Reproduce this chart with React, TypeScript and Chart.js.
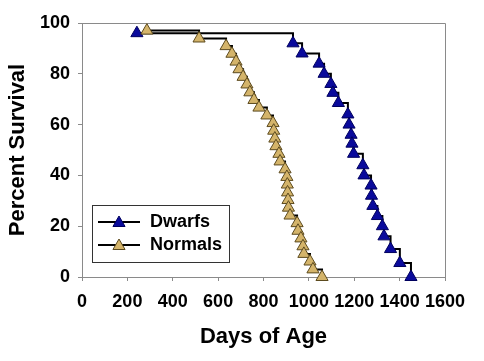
import React, { useEffect, useRef } from 'react';
import { Chart, registerables } from 'chart.js';

Chart.register(...registerables);

const seriesNames = ['Dwarfs', 'Normals'];

const dwarfDays = [242, 930, 970, 1045, 1067, 1097, 1106, 1130, 1172, 1177, 1186, 1190, 1197, 1238, 1243, 1274, 1276, 1282, 1302, 1324, 1331, 1360, 1401, 1450];
const dwarfSurvival = [96, 92, 88, 84, 80, 76, 72.5, 68.5, 64, 60, 56, 52.5, 48.5, 44, 40, 36, 32, 28, 24, 20, 16, 11, 5.5, 0];

const normalDays = [286, 516, 635, 661, 679, 692, 710, 727, 740, 758, 780, 815, 842, 845, 850, 855, 868, 873, 895, 903, 905, 906, 908, 910, 917, 948, 952, 965, 974, 978, 1005, 1018, 1058];
const normalSurvival = [97.0, 93.9, 90.9, 87.9, 84.8, 81.8, 78.8, 75.8, 72.7, 69.7, 66.7, 63.6, 60.6, 57.6, 54.5, 51.5, 48.5, 45.5, 42.4, 39.4, 36.4, 33.3, 30.3, 27.3, 24.2, 21.2, 18.2, 15.2, 12.1, 9.1, 6.1, 3.0, 0];

const xTickValues = [0, 200, 400, 600, 800, 1000, 1200, 1400, 1600];
const yTickValues = [0, 20, 40, 60, 80, 100];

const FONT = "'Liberation Sans', Arial, Helvetica, sans-serif";

const dwarfFill = '#0a0a9c';
const dwarfEdge = '#00005e';
const normalFill = '#d4b46a';
const normalEdge = '#5c4a1e';

function drawTriangle(ctx: CanvasRenderingContext2D, x: number, y: number, r: number, fill: string, edge: string) {
  ctx.beginPath();
  for (let i = 0; i < 3; i++) {
    const a = -Math.PI / 2 + (i * 2 * Math.PI) / 3;
    const px = x + Math.cos(a) * r;
    const py = y + Math.sin(a) * r;
    if (i === 0) ctx.moveTo(px, py);
    else ctx.lineTo(px, py);
  }
  ctx.closePath();
  ctx.fillStyle = fill;
  ctx.fill();
  ctx.lineWidth = 1;
  ctx.strokeStyle = edge;
  ctx.stroke();
}

const framePlugin = {
  id: 'frame',
  beforeDatasetsDraw(chart: any) {
    const { ctx, chartArea } = chart;
    ctx.save();
    ctx.strokeStyle = '#8a8a8a';
    ctx.lineWidth = 1;
    ctx.beginPath();
    ctx.moveTo(chartArea.left, chartArea.top + 0.5);
    ctx.lineTo(chartArea.right + 0.5, chartArea.top + 0.5);
    ctx.lineTo(chartArea.right + 0.5, chartArea.bottom);
    ctx.stroke();
    ctx.restore();
  },
};

const boxLegendPlugin = {
  id: 'boxLegend',
  afterDraw(chart: any) {
    const { ctx, chartArea } = chart;
    const x0 = chartArea.left + 10;
    const y0 = chartArea.bottom - 72;
    const w = 137;
    const h = 57;
    ctx.save();
    ctx.fillStyle = '#ffffff';
    ctx.fillRect(x0, y0, w, h);
    ctx.strokeStyle = '#333333';
    ctx.lineWidth = 1;
    ctx.strokeRect(x0 + 0.5, y0 + 0.5, w, h);
    const rows = [
      { label: seriesNames[0], fill: dwarfFill, edge: dwarfEdge, y: y0 + 17 },
      { label: seriesNames[1], fill: normalFill, edge: normalEdge, y: y0 + 40 },
    ];
    rows.forEach((r) => {
      ctx.strokeStyle = '#000000';
      ctx.lineWidth = 2;
      ctx.beginPath();
      ctx.moveTo(x0 + 6, r.y);
      ctx.lineTo(x0 + 48, r.y);
      ctx.stroke();
      drawTriangle(ctx, x0 + 27, r.y + 1, 7, r.fill, r.edge);
      ctx.fillStyle = '#000000';
      ctx.font = `bold 18px ${FONT}`;
      ctx.textBaseline = 'middle';
      ctx.textAlign = 'left';
      ctx.fillText(r.label, x0 + 58, r.y);
    });
    ctx.restore();
  },
};

export default function App() {
  const ref = useRef<HTMLCanvasElement | null>(null);

  useEffect(() => {
    if (!ref.current) return;
    const dwarfs = dwarfDays.map((d, i) => ({ x: d, y: dwarfSurvival[i] }));
    const normals = normalDays.map((d, i) => ({ x: d, y: normalSurvival[i] }));
    const chart = new Chart(ref.current, {
      type: 'line',
      data: {
        datasets: [
          {
            label: seriesNames[0],
            data: dwarfs,
            stepped: true,
            borderColor: '#000000',
            borderWidth: 2,
            pointStyle: 'triangle',
            pointRadius: 7,
            pointBackgroundColor: dwarfFill,
            pointBorderColor: dwarfEdge,
            pointBorderWidth: 1,
            clip: false as any,
            order: 2,
          },
          {
            label: seriesNames[1],
            data: normals,
            stepped: true,
            borderColor: '#000000',
            borderWidth: 2,
            pointStyle: 'triangle',
            pointRadius: 7,
            pointBackgroundColor: normalFill,
            pointBorderColor: normalEdge,
            pointBorderWidth: 1,
            clip: false as any,
            order: 1,
          },
        ],
      },
      options: {
        responsive: false,
        animation: false,
        layout: { padding: { top: 23, right: 39, left: 0, bottom: 0 } },
        plugins: {
          legend: { display: false },
          tooltip: { enabled: false },
        },
        scales: {
          x: {
            type: 'linear',
            min: xTickValues[0],
            max: xTickValues[xTickValues.length - 1],
            afterFit: (s: any) => { s.height = 84; },
            afterBuildTicks: (s: any) => { s.ticks = xTickValues.map((v) => ({ value: v })); },
            ticks: {
              autoSkip: false,
              callback: (v: any) => String(v),
              color: '#000000',
              font: { family: FONT, size: 18, weight: 'bold' },
              padding: 10,
              maxRotation: 0,
              minRotation: 0,
            },
            grid: { display: true, drawOnChartArea: false, drawTicks: true, tickLength: 4, color: '#8a8a8a' },
            border: { display: true, color: '#8a8a8a', width: 1 },
            title: {
              display: true,
              text: 'Days of Age',
              color: '#000000',
              font: { family: FONT, size: 22, weight: 'bold' },
              padding: { top: 0, bottom: 11 },
            },
          },
          y: {
            type: 'linear',
            min: yTickValues[0],
            max: yTickValues[yTickValues.length - 1],
            afterFit: (s: any) => { s.width = 82; },
            afterBuildTicks: (s: any) => { s.ticks = yTickValues.map((v) => ({ value: v })); },
            ticks: {
              autoSkip: false,
              callback: (v: any) => String(v),
              color: '#000000',
              font: { family: FONT, size: 18, weight: 'bold' },
              padding: 8,
            },
            grid: { display: true, drawOnChartArea: false, drawTicks: true, tickLength: 4, color: '#8a8a8a' },
            border: { display: true, color: '#8a8a8a', width: 1 },
            title: {
              display: true,
              text: 'Percent Survival',
              color: '#000000',
              font: { family: FONT, size: 22, weight: 'bold' },
              padding: { top: 5, bottom: 0 },
            },
          },
        },
      },
      plugins: [framePlugin, boxLegendPlugin],
    });
    return () => chart.destroy();
  }, []);

  return (
    <div style={{ position: 'absolute', left: 0, top: 0, width: 484, height: 361, background: '#ffffff' }}>
      <canvas ref={ref} width={484} height={361} />
    </div>
  );
}
